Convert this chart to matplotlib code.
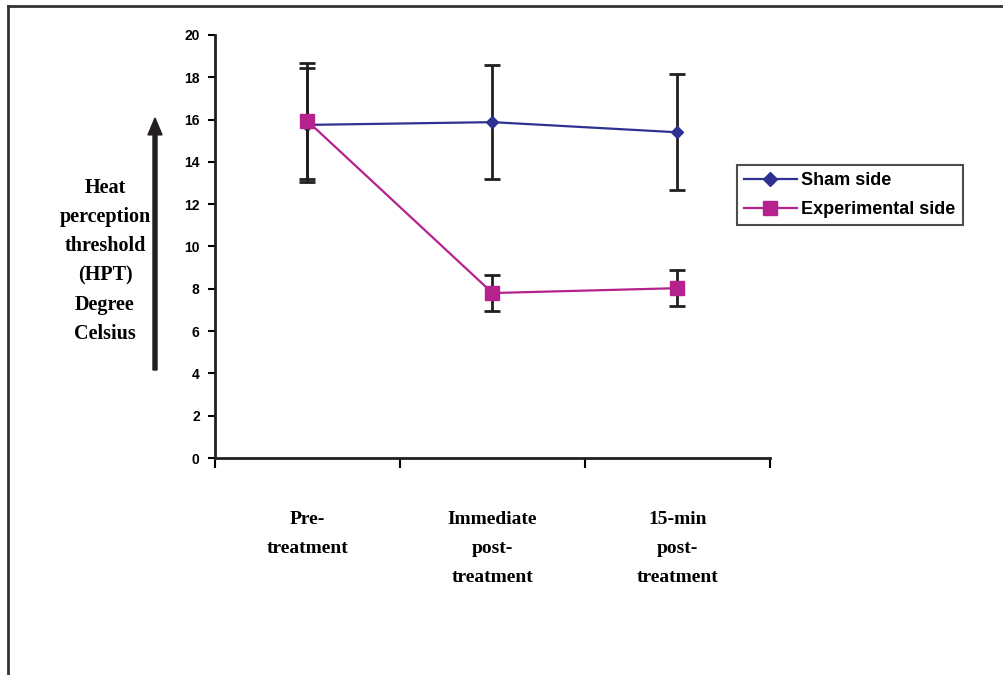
import matplotlib.pyplot as plt
from matplotlib.lines import Line2D
from matplotlib.patches import FancyArrow

# data
phases = ['Pre-\ntreatment', 'Immediate\npost-\ntreatment', '15-min\npost-\ntreatment']
sham = [15.75, 15.88, 15.4]
sham_err = [2.7, 2.7, 2.75]
expt = [15.93, 7.8, 8.03]
expt_err = [2.75, 0.85, 0.85]

plt.rcParams['font.family'] = ['Liberation Sans', 'DejaVu Sans']

fig = plt.figure(figsize=(10.04, 6.75), dpi=100)
ax = fig.add_axes([215/1004, 1-458/675, 555/1004, 423/675])

x = range(len(phases))
ax.errorbar(x, sham, yerr=sham_err, color='#2E3192', lw=1.6, marker='D', ms=6,
            ecolor='#231F20', elinewidth=2, capsize=6, capthick=2, label='Sham side', zorder=3)
ax.errorbar(x, expt, yerr=expt_err, color='#B5228E', lw=1.6, marker='s', ms=10,
            ecolor='#231F20', elinewidth=2, capsize=6, capthick=2, label='Experimental side', zorder=4)

ax.set_xlim(-0.5, 2.5)
ax.set_ylim(0, 20)
ax.set_yticks(range(0, 21, 2))
ax.tick_params(axis='y', direction='out', length=5, width=1.5, pad=6, labelsize=10)
for t in ax.get_yticklabels():
    t.set_fontweight('bold')
# category names below the axis, boundary ticks between them
ax.set_xticks([-0.5, 0.5, 1.5, 2.5])
ax.set_xticklabels([])
ax.tick_params(axis='x', direction='out', length=7, width=1.5)
for i, lab in enumerate(phases):
    ax.text(i, -0.126, lab, transform=ax.get_xaxis_transform(), ha='center', va='top',
            family=['Liberation Serif'], fontweight='bold', fontsize=14, linespacing=1.9)
for s in ['top', 'right']:
    ax.spines[s].set_visible(False)
for s in ['left', 'bottom']:
    ax.spines[s].set_linewidth(2)
    ax.spines[s].set_color('#231F20')

handles = [Line2D([], [], color='#2E3192', lw=1.6, marker='D', ms=7),
           Line2D([], [], color='#B5228E', lw=1.6, marker='s', ms=10)]
leg = fig.legend(handles, ['Sham side', 'Experimental side'], loc='upper left',
                 bbox_to_anchor=(737/1004, 1-165/675), frameon=True, fancybox=False,
                 prop={'weight': 'bold', 'size': 13}, handlelength=2.9, handletextpad=0.25,
                 borderpad=0.4, labelspacing=0.65, borderaxespad=0)
leg.get_frame().set_edgecolor('#231F20')
leg.get_frame().set_linewidth(1.5)

# y label text and arrow
fig.text(105/1004, 1-261/675, 'Heat\nperception\nthreshold\n(HPT)\nDegree\nCelsius',
         ha='center', va='center', family=['Liberation Serif'], fontweight='bold',
         fontsize=14.5, linespacing=1.62)
fig.add_artist(FancyArrow(155/1004, 1-370/675, 0, (370-118)/675,
               width=0.004, head_width=0.014, head_length=0.025, length_includes_head=True,
               color='#231F20', transform=fig.transFigure))

# outer frame (top and left only)
fig.add_artist(Line2D([8/1004, 1], [1-6/675, 1-6/675], color='#333333', lw=2, transform=fig.transFigure))
fig.add_artist(Line2D([8/1004, 8/1004], [0, 1-6/675], color='#333333', lw=2, transform=fig.transFigure))

fig.savefig('out.png', dpi=100)
